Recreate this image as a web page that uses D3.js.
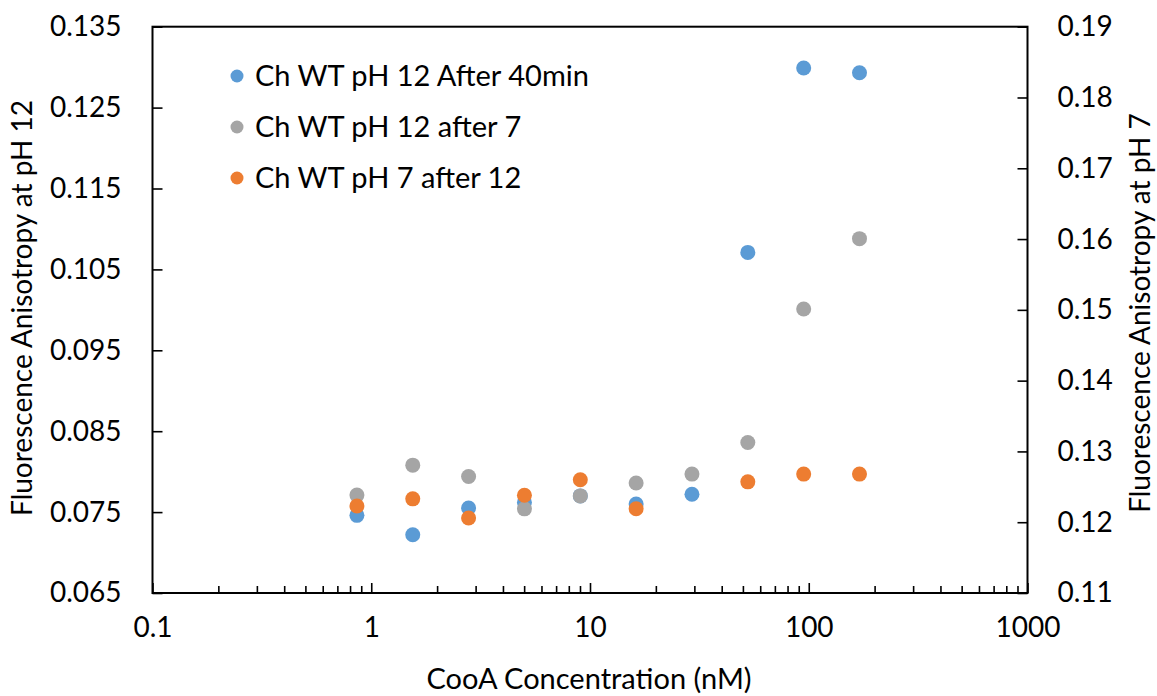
<!DOCTYPE html>
<html>
<head>
<meta charset="utf-8">
<script src="https://cdn.jsdelivr.net/npm/d3@7"></script>
<style>
  html, body { margin: 0; padding: 0; background: #fff; }
  svg text { font-family: Lato, "Open Sans", sans-serif; fill: #000; }
</style>
</head>
<body>
<svg id="chart" width="1157" height="696"></svg>
<script>
// ---- Data ----
const concentrations = [0.86, 1.548, 2.786, 5.015, 9.03, 16.25, 29.25, 52.65, 94.8, 170.6];
const seriesNames = ["Ch WT pH 12 After 40min", "Ch WT pH 12 after 7", "Ch WT pH 7 after 12"];
const bluePH12 = [0.0746, 0.0722, 0.0755, 0.0762, 0.0770, 0.0760, 0.0772, 0.1071, 0.1299, 0.1293];
const grayPH12after7 = [0.0771, 0.0808, 0.0794, 0.0754, 0.0770, 0.0786, 0.0797, 0.0836, 0.1001, 0.1088];
const orangePH7after12 = [0.1223, 0.1233, 0.1206, 0.1238, 0.1260, 0.1219, null, 0.1257, 0.1268, 0.1268];
const seriesColors = ["#5B9BD5", "#A5A5A5", "#ED7D31"];
const xTickValues = [0.1, 1, 10, 100, 1000];
const xTickLabels = ["0.1", "1", "10", "100", "1000"];
const leftTicks = [0.065, 0.075, 0.085, 0.095, 0.105, 0.115, 0.125, 0.135];
const rightTicks = [0.11, 0.12, 0.13, 0.14, 0.15, 0.16, 0.17, 0.18, 0.19];
const xTitle = "CooA Concentration (nM)";
const leftTitle = "Fluorescence Anisotropy at pH 12";
const rightTitle = "Fluorescence Anisotropy at pH 7";

// ---- Layout ----
const svg = d3.select("#chart");
const L = 152.5, R = 1027.5, T = 26.7, B = 593;
const fs = 28;

const x = d3.scaleLog().domain([0.1, 1000]).range([L, R]);
const yL = d3.scaleLinear().domain([0.065, 0.135]).range([B, T]);
const yR = d3.scaleLinear().domain([0.11, 0.19]).range([B, T]);

// minor ticks for log axis
const minorTicks = [];
for (let d = 0.1; d < 1000; d *= 10) {
  for (let k = 2; k <= 9; k++) minorTicks.push(+(d * k).toPrecision(3));
}

// X axis (ticks inward)
const gx = svg.append("g").attr("transform", `translate(0,${B})`);
gx.call(d3.axisBottom(x).tickValues(minorTicks).tickSize(-7).tickFormat(""))
  .call(g => g.select(".domain").remove());
const gxMajor = svg.append("g").attr("transform", `translate(0,${B})`)
  .call(d3.axisBottom(x).tickValues(xTickValues).tickSize(-10)
    .tickFormat((d, i) => xTickLabels[i]).tickPadding(24));
gxMajor.select(".domain").remove();
gxMajor.selectAll("text").attr("font-size", fs).attr("font-family", "Lato");
svg.selectAll("g .tick line").attr("stroke", "#000").attr("stroke-width", 1.6);

// Left axis
const gl = svg.append("g").attr("transform", `translate(${L},0)`)
  .call(d3.axisLeft(yL).tickValues(leftTicks).tickSize(-10)
    .tickFormat(d3.format(".3f")).tickPadding(31));
gl.select(".domain").remove();
gl.selectAll("text").attr("font-size", fs).attr("font-family", "Lato");
gl.selectAll(".tick line").attr("stroke", "#000").attr("stroke-width", 1.6);

// Right axis
const gr = svg.append("g").attr("transform", `translate(${R},0)`)
  .call(d3.axisRight(yR).tickValues(rightTicks).tickSize(-10)
    .tickFormat(d3.format(".2f")).tickPadding(30));
gr.select(".domain").remove();
gr.selectAll("text").attr("font-size", fs).attr("font-family", "Lato");
gr.selectAll(".tick line").attr("stroke", "#000").attr("stroke-width", 1.6);

// Frame
svg.append("rect").attr("x", L).attr("y", T).attr("width", R - L).attr("height", B - T)
  .attr("fill", "none").attr("stroke", "#000").attr("stroke-width", 2);

// Points
const r = 7.5;
function drawSeries(vals, yScale, color) {
  svg.append("g").selectAll("circle")
    .data(concentrations.map((c, i) => ({ c, v: vals[i] })).filter(d => d.v !== null))
    .join("circle")
    .attr("cx", d => x(d.c))
    .attr("cy", d => yScale(d.v))
    .attr("r", r)
    .attr("fill", color);
}
drawSeries(bluePH12, yL, seriesColors[0]);
drawSeries(grayPH12after7, yL, seriesColors[1]);
drawSeries(orangePH7after12, yR, seriesColors[2]);

// Legend
const legend = svg.append("g");
seriesNames.forEach((name, i) => {
  const yy = 76 + i * 51;
  legend.append("circle").attr("cx", 237).attr("cy", yy).attr("r", 6.5).attr("fill", seriesColors[i]);
  legend.append("text").attr("x", 255).attr("y", yy).attr("dy", "0.35em")
    .attr("font-size", 29).text(name);
});

// Axis titles
svg.append("text").attr("x", 589).attr("y", 679).attr("dy", "0.35em")
  .attr("text-anchor", "middle").attr("font-size", 29).text(xTitle);
svg.append("text").attr("transform", `translate(22,308) rotate(-90)`)
  .attr("dy", "0.35em").attr("text-anchor", "middle").attr("font-size", 28).text(leftTitle);
svg.append("text").attr("transform", `translate(1140,313) rotate(-90)`)
  .attr("dy", "0.35em").attr("text-anchor", "middle").attr("font-size", 28).text(rightTitle);
</script>
</body>
</html>
